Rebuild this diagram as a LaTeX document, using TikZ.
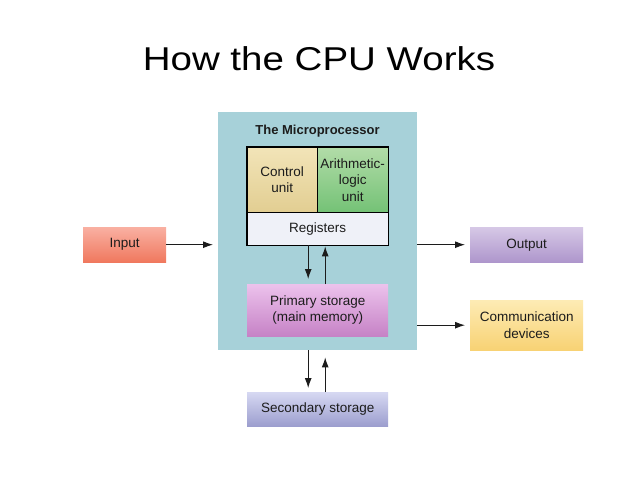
\documentclass[tikz,border=0pt]{standalone}
\usepackage{fontspec}
\setmainfont{Liberation Sans}
\newfontfamily\titlefont[FakeStretch=1.167]{Liberation Sans}
\usetikzlibrary{arrows.meta}
\definecolor{mpblue}{HTML}{A7D1D9}
\definecolor{txt}{HTML}{1C1C1C}
\definecolor{cuT}{HTML}{F2E4B8}
\definecolor{cuB}{HTML}{E2CE92}
\definecolor{aluT}{HTML}{B2DCA8}
\definecolor{aluB}{HTML}{74C276}
\definecolor{regC}{HTML}{EFF1F8}
\definecolor{prT}{HTML}{ECC2EC}
\definecolor{prB}{HTML}{C682C6}
\definecolor{inT}{HTML}{F9B0A2}
\definecolor{inB}{HTML}{F0785E}
\definecolor{outT}{HTML}{D6C8E6}
\definecolor{outB}{HTML}{AE96CC}
\definecolor{coT}{HTML}{FDEBB4}
\definecolor{coB}{HTML}{F8D274}
\definecolor{seT}{HTML}{D6D8F2}
\definecolor{seB}{HTML}{9C9ECE}
\tikzset{
  box/.style={anchor=north west, inner sep=0pt, align=center, text=txt,
    font=\fontsize{13.5}{16.5}\selectfont},
  arr/.style={draw=txt, line width=1pt, -{Latex[length=10pt,width=7pt]}},
}
\begin{document}
\begin{tikzpicture}[x=1pt,y=-1pt]
\useasboundingbox[fill=white] (0,0) rectangle (638,479);
\node[anchor=base, text=black, font=\titlefont\fontsize{33}{36}\selectfont] (title) at (319,70) {How the CPU Works};
% microprocessor
\node[box, fill=mpblue, minimum width=199pt, minimum height=238pt] (mp) at (218,112) {};
\node[anchor=base, font=\bfseries\fontsize{13}{16}\selectfont, text=txt] (mptitle) at (317.5,134) {The Microprocessor};
\node[box, top color=cuT, bottom color=cuB, minimum width=70pt, minimum height=65pt] (cu) at (247,147) {Control\\unit};
\node[box, top color=aluT, bottom color=aluB, minimum width=71pt, minimum height=65pt] (alu) at (317,147) {Arithmetic-\\logic\\unit};
\node[box, fill=regC, minimum width=141pt, minimum height=33pt] (reg) at (247,212) {Registers};
\draw[black, line width=1.6pt] (cu.north west) rectangle (reg.south east);
\draw[black, line width=1.3pt] (cu.north east) -- (cu.south east) -- (cu.south west);
\draw[black, line width=1.3pt] (alu.south west) -- (alu.south east);
\node[box, top color=prT, bottom color=prB, minimum width=141pt, minimum height=52pt] (prim) at (247,284) {Primary storage\\(main memory)};
% outside boxes
\node[box, top color=inT, bottom color=inB, minimum width=83pt, minimum height=35pt] (input) at (83,227) {Input};
\node[box, top color=outT, bottom color=outB, minimum width=113pt, minimum height=35pt] (output) at (470,227) {Output};
\node[box, top color=coT, bottom color=coB, minimum width=113pt, minimum height=50pt] (comm) at (470,300) {Communication\\devices};
\node[box, top color=seT, bottom color=seB, minimum width=141pt, minimum height=34pt] (sec) at (247,392) {Secondary storage};
% connectors
\draw[arr, shorten >=5pt] (input.east) -- (input.east -| mp.west);
\draw[arr, shorten >=5pt] (output.west -| mp.east) -- (output.west);
\draw[arr, shorten >=5pt] (comm.west -| mp.east) -- (comm.west);
\draw[arr, shorten >=5pt] ([xshift=-9.5pt]reg.south) -- ([xshift=-9.5pt]prim.north);
\draw[arr, shorten >=1pt] ([xshift=7.5pt]prim.north) -- ([xshift=7.5pt]reg.south);
\draw[arr, shorten >=4pt] ([xshift=-9.5pt]sec.north |- mp.south) -- ([xshift=-9.5pt]sec.north);
\draw[arr, shorten >=7pt] ([xshift=7.5pt]sec.north) -- ([xshift=7.5pt]sec.north |- mp.south);
\end{tikzpicture}
\end{document}
